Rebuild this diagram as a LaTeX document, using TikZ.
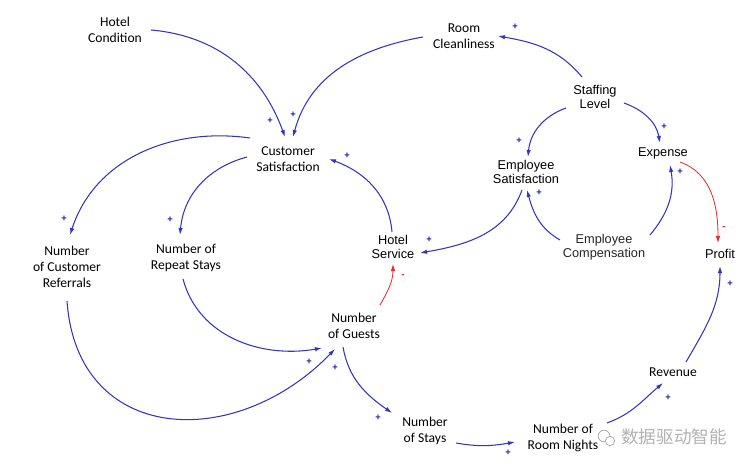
\documentclass[tikz,border=0pt]{standalone}
\usepackage{fontspec}
\setmainfont{Carlito}
\newfontfamily\arialfont{Liberation Sans}
\newfontfamily\cjkfont{Noto Sans CJK SC}
\usetikzlibrary{arrows.meta}
\definecolor{linkblue}{RGB}{52,52,196}
\definecolor{linkred}{RGB}{236,40,40}
\definecolor{polblue}{RGB}{30,30,170}
\tikzset{
  var/.style={align=center, font=\fontsize{11.6}{13.9}\selectfont, inner sep=1pt},
  avar/.style={var, font=\arialfont\fontsize{10.9}{12.4}\selectfont},
  link/.style={-{Latex[length=6pt,width=3.8pt]}, draw=linkblue, line width=0.9pt},
  neglink/.style={link, draw=linkred, line width=0.7pt},
  pol/.style={font=\arialfont\bfseries\fontsize{8}{8}\selectfont, text=polblue, inner sep=0pt},
  npol/.style={pol, text=linkred}
}
\begin{document}
\begin{tikzpicture}[x=0.03cm,y=0.03cm]
\useasboundingbox[fill=white] (0,0) rectangle (752,472);
\node[var] (hc) at (115,442) {Hotel\\Condition};
\node[var] (rc) at (464,436) {Room\\Cleanliness};
\node[var] (cs) at (288,313) {Customer\\Satisfaction};
\node[avar] (sl) at (595,375) {Staffing\\Level};
\node[avar] (es) at (526,300) {Employee\\Satisfaction};
\node[avar] (ex) at (663,319) {Expense};
\node[var] (cr) at (67,205) {Number\\of Customer\\Referrals};
\node[var] (rs) at (186,214) {Number of\\Repeat Stays};
\node[avar] (hs) at (393,225) {Hotel\\Service};
\node[avar, text=black!85] (ec) at (604,225) {Employee\\Compensation};
\node[avar] (pr) at (720,218) {Profit};
\node[var] (ng) at (354,146) {Number\\of Guests};
\node[var] (rv) at (673,100) {Revenue};
\node[var] (ns) at (425,41) {Number\\of Stays};
\node[var] (rn) at (563,34) {Number of\\Room Nights};
\draw[link] ([shift={(36,0)}]hc.center) to[out=-5,in=110] ([shift={(-3,22)}]cs.center);
\draw[link] ([shift={(-41,-1)}]rc.center) to[out=190,in=75] ([shift={(5,22)}]cs.center);
\draw[link] ([shift={(-38,21)}]cs.center) to[out=172,in=72] ([shift={(3,32)}]cr.center);
\draw[link] ([shift={(-41,2)}]cs.center) to[out=195,in=85] ([shift={(-6,23)}]rs.center);
\draw[link] ([shift={(-1,15)}]hs.center) to[out=95,in=-20] ([shift={(41,0)}]cs.center);
\draw[link] ([shift={(-13,20)}]sl.center) to[out=130,in=-10] ([shift={(34,0)}]rc.center);
\draw[link] ([shift={(-29,-11)}]sl.center) to[out=200,in=85] ([shift={(2,15)}]es.center);
\draw[link] ([shift={(29,-6)}]sl.center) to[out=-20,in=100] ([shift={(-3,10)}]ex.center);
\draw[link] ([shift={(-4,-18)}]es.center) to[out=250,in=10] ([shift={(27,-6)}]hs.center);
\draw[link] ([shift={(-44,7)}]ec.center) to[out=150,in=-75] ([shift={(1,-18)}]es.center);
\draw[link] ([shift={(46,12)}]ec.center) to[out=50,in=-80] ([shift={(7,-12)}]ex.center);
\draw[neglink] ([shift={(17,-9)}]ex.center) to[out=-20,in=90] ([shift={(-2,11)}]pr.center);
\draw[link] ([shift={(13,10)}]rv.center) to[out=60,in=-90] ([shift={(0,-12)}]pr.center);
\draw[link] ([shift={(44,15)}]rn.center) to[out=20,in=220] ([shift={(-10,-11)}]rv.center);
\draw[link] ([shift={(31,-12)}]ns.center) to[out=-10,in=190] ([shift={(-48,-4)}]rn.center);
\draw[link] ([shift={(-11,-21)}]ng.center) to[out=-80,in=145] ([shift={(-33,18)}]ns.center);
\draw[neglink] ([shift={(26,21)}]ng.center) to[out=60,in=-90] ([shift={(0,-17)}]hs.center);
\draw[link] ([shift={(-3,-21)}]rs.center) to[out=-75,in=190] ([shift={(-32,-22)}]ng.center);
\draw[link] ([shift={(0,-34)}]cr.center) to[out=-86,in=226,looseness=1.35] ([shift={(-19,-23)}]ng.center);
\foreach \n/\x/\y in {1/270/351, 2/293/357, 3/64/253, 4/170/252, 5/347/316, 6/515/445,
  7/519/331, 8/664/345, 9/429/232, 10/539/279, 11/680/300, 13/730/188, 14/668/74,
  15/508/19, 16/378/54, 18/309/110, 19/335/104}
  \node[pol] (p\n) at (\x,\y) {+};
\node[npol] (m12) at (724,244) {-};
\node[npol] (m17) at (403,196) {-};
\node[draw=black!35, line width=0.6pt, circle, minimum size=10pt, inner sep=0pt] (wx) at (604,36) {};
\node[draw=black!35, line width=0.6pt, circle, minimum size=8pt, inner sep=0pt, fill=white] (wy) at (610,31) {};
\node[font=\cjkfont\fontsize{15}{15}\selectfont, text=black!30] (wm) at (674,35) {数据驱动智能};
\end{tikzpicture}
\end{document}
